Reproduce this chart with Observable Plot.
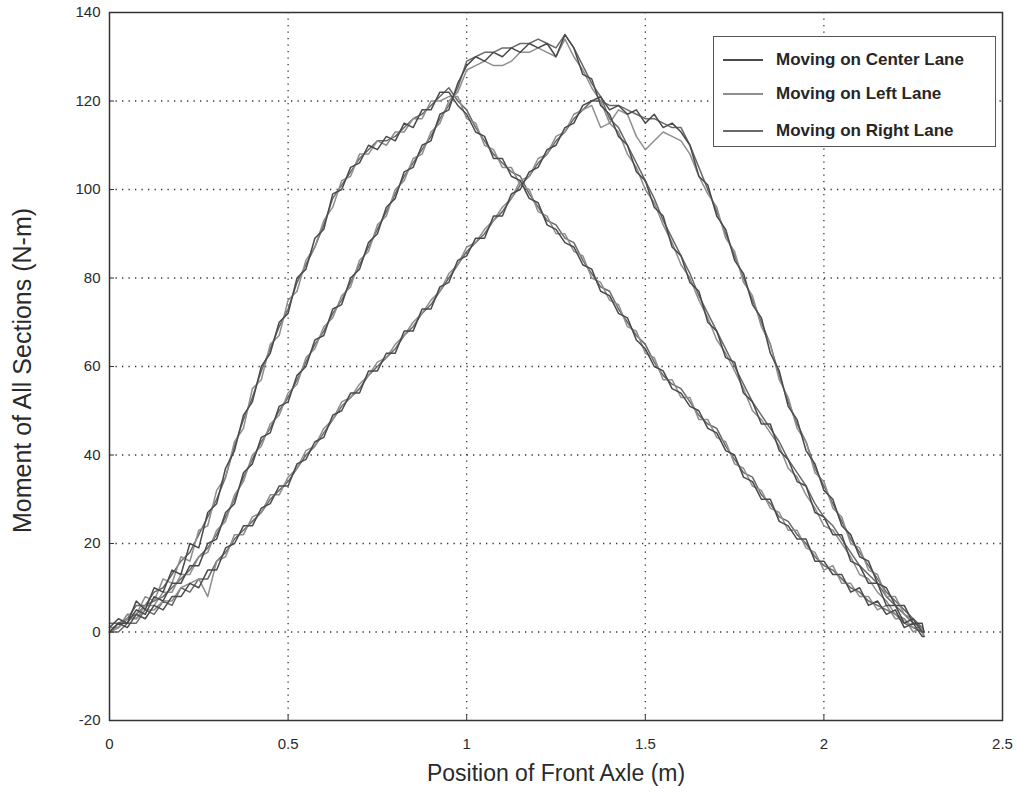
<!DOCTYPE html>
<html><head><meta charset="utf-8">
<script src="https://cdn.jsdelivr.net/npm/d3@7"></script>
<script src="https://cdn.jsdelivr.net/npm/@observablehq/plot@0.6"></script>
<style>
body{margin:0;background:#fff;}
#wrap{position:relative;width:1016px;height:793px;font-family:"Liberation Sans",Arial,sans-serif;}
#legend{position:absolute;left:713px;top:36px;width:283px;height:111px;background:#fff;border:1px solid #555;box-sizing:border-box;}
.row{position:absolute;left:9px;height:20px;display:flex;align-items:center;}
.sw{display:inline-block;width:40px;height:2px;margin-right:13px;}
.lab{font-weight:bold;font-size:17px;color:#262626;white-space:nowrap;}
</style></head>
<body><div id="wrap"><div id="chart"></div><div id="legend"></div></div>
<script>
const lanes = ["Moving on Center Lane", "Moving on Left Lane", "Moving on Right Lane"];
const laneColors = ["#4a4a4a", "#8e8e8e", "#696969"];
const xTicks = [0, 0.5, 1, 1.5, 2, 2.5];
const yTicks = [-20, 0, 20, 40, 60, 80, 100, 120, 140];

// position of front axle (m)
const pos = [
  0,0.025,0.05,0.075,0.1,0.125,0.15,0.175,0.2,0.225,
  0.25,0.275,0.3,0.325,0.35,0.375,0.4,0.425,0.45,0.475,
  0.5,0.525,0.55,0.575,0.6,0.625,0.65,0.675,0.7,0.725,
  0.75,0.775,0.8,0.825,0.85,0.875,0.9,0.925,0.95,0.975,
  1.0,1.025,1.05,1.075,1.1,1.125,1.15,1.175,1.2,1.225,
  1.25,1.275,1.3,1.325,1.35,1.375,1.4,1.425,1.45,1.475,
  1.5,1.525,1.55,1.575,1.6,1.625,1.65,1.675,1.7,1.725,
  1.75,1.775,1.8,1.825,1.85,1.875,1.9,1.925,1.95,1.975,
  2.0,2.025,2.05,2.075,2.1,2.125,2.15,2.175,2.2,2.225,
  2.25,2.275,2.28];

// section 1 (peak near 0.95 m)
const s1Center = [
  1,3,2,7,5,10,9,14,13,20, 19,27,29,37,41,49,52,60,63,70,
  72,80,82,89,91,99,100,105,106,110, 109,112,111,115,114,118,118,122,122,119,
  117,113,112,107,107,103,102,98,97,92, 91,88,87,83,82,77,76,72,71,66,
  64,60,59,55,54,51,50,46,45,41, 40,35,34,30,30,25,24,21,21,16,
  16,13,13,9,10,6,7,4,5,1, 2,-1,-1];
const s1Left = [
  0,1,4,4,8,7,12,11,17,16, 23,24,32,35,43,46,55,57,65,67,
  75,77,84,87,93,96,102,103,108,108, 111,110,113,113,116,116,120,120,121,121,
  116,115,110,109,105,105,101,100,95,94, 90,90,86,85,80,79,75,74,69,68,
  63,62,57,57,53,53,48,48,44,43, 38,37,33,32,28,27,23,23,19,18,
  14,15,11,11,8,8,5,6,3,3, 0,1,-1];
const s1Right = [
  2,2,3,6,6,9,10,13,16,18, 22,26,30,35,42,48,53,59,64,69,
  73,79,83,87,92,98,101,104,107,109, 111,111,112,114,116,117,119,121,123,120,
  118,114,111,108,106,104,103,99,96,93, 92,89,88,84,81,78,77,73,70,67,
  65,61,58,56,55,52,49,47,46,42, 39,36,35,31,29,26,25,22,20,17,
  15,14,12,10,9,7,6,5,4,2, 1,0,0];

// section 2 (peak near 1.28 m)
const s2Center = [
  0,2,2,5,4,8,7,11,11,15, 15,20,21,27,29,36,38,44,45,51,
  52,58,60,66,67,73,74,80,82,88, 90,96,98,104,105,110,111,117,118,124,
  128,130,129,131,130,132,131,133,132,133, 130,135,132,126,125,119,117,112,110,104,
  102,96,94,87,85,79,77,70,68,62, 61,54,52,47,47,41,39,34,33,27,
  26,22,22,16,15,11,11,6,6,2, 3,0,0];
const s2Left = [
  1,1,4,3,6,6,9,9,13,13, 17,18,23,25,31,34,40,42,47,49,
  54,56,62,64,69,71,76,78,84,86, 92,94,100,102,107,108,113,115,120,122,
  127,128,129,128,128,129,131,131,132,131, 130,134,130,127,123,120,115,113,108,105,
  100,97,92,88,83,80,75,71,66,63, 59,55,50,48,45,42,37,35,31,28,
  24,23,20,17,13,12,9,7,4,3, 1,1,-1];
const s2Right = [
  0,1,3,4,6,7,8,10,12,14, 17,19,22,26,30,35,39,43,46,50,
  53,57,61,65,68,72,75,79,83,87, 91,95,99,103,106,109,112,116,119,123,
  129,130,131,131,132,132,133,133,134,133, 132,135,132,128,124,121,116,114,110,106,
  102,98,93,89,85,81,76,72,68,64, 60,56,52,49,46,43,39,36,33,29,
  26,24,21,18,15,13,11,8,6,4, 2,1,0];

// section 3 (peak near 1.38 m)
const s3Center = [
  0,2,1,4,3,6,5,8,8,11, 10,14,14,19,20,24,24,28,29,33,
  33,38,39,43,44,49,50,54,54,59, 59,63,63,68,68,73,73,78,79,84,
  85,89,89,94,94,99,100,104,105,109, 110,114,115,119,120,121,118,119,117,118,
  115,117,114,115,113,110,103,101,94,91, 84,81,74,71,63,59,51,48,41,38,
  32,30,24,22,17,16,11,10,6,6, 2,2,0];
const s3Left = [
  1,1,3,3,5,5,7,7,10,11, 12,8,16,17,22,22,26,27,31,31,
  35,37,41,42,46,48,52,53,56,58, 61,62,65,67,70,72,75,77,81,83,
  87,88,91,93,96,98,102,103,107,108, 112,113,117,118,119,114,115,118,117,112,
  109,111,113,112,111,108,103,99,96,89, 86,79,76,69,65,57,53,46,43,36,
  34,28,26,20,19,14,13,8,8,4, 3,0,-1];
const s3Right = [
  0,0,2,2,5,4,7,6,10,9, 12,12,16,18,21,23,25,27,30,32,
  34,37,40,42,45,48,51,53,55,58, 60,62,64,67,69,72,74,77,80,83,
  86,88,90,93,95,98,101,103,106,108, 111,113,116,118,120,120,119,119,118,117,
  116,116,115,114,114,110,105,100,95,90, 85,80,75,70,65,58,52,47,43,37,
  33,29,25,21,18,15,12,9,7,5, 3,1,0];

const series = [
  {id: "s1R", lane: 2, y: s1Right}, {id: "s2R", lane: 2, y: s2Right}, {id: "s3R", lane: 2, y: s3Right},
  {id: "s1L", lane: 1, y: s1Left},  {id: "s2L", lane: 1, y: s2Left},  {id: "s3L", lane: 1, y: s3Left},
  {id: "s1C", lane: 0, y: s1Center},{id: "s2C", lane: 0, y: s2Center},{id: "s3C", lane: 0, y: s3Center}
];
const rows = series.flatMap(s => pos.map((x, i) => ({x, y: s.y[i], id: s.id, lane: lanes[s.lane]})));

const chart = Plot.plot({
  width: 1016, height: 793,
  marginLeft: 109, marginRight: 14, marginTop: 12, marginBottom: 73,
  style: {fontFamily: "'Liberation Sans', Arial, sans-serif", fontSize: "15px", color: "#2a2a2a", background: "#fff"},
  x: {domain: [0, 2.5]},
  y: {domain: [-20, 140]},
  color: {domain: lanes, range: laneColors},
  marks: [
    Plot.gridX(xTicks.slice(1, -1), {stroke: "#333", strokeOpacity: 1, strokeWidth: 1.3, strokeDasharray: "1.3,5.2"}),
    Plot.gridY(yTicks.slice(1, -1), {stroke: "#333", strokeOpacity: 1, strokeWidth: 1.3, strokeDasharray: "1.3,5.2"}),
    Plot.line(rows, {x: "x", y: "y", z: "id", stroke: "lane", strokeWidth: 1.5, strokeLinejoin: "round"}),
    Plot.axisX(xTicks, {tickSize: 0, tickPadding: 18, tickFormat: d => String(d), label: null}),
    Plot.axisX(xTicks, {tickSize: 5, dy: -5, text: null, label: null, stroke: "#333"}),
    Plot.axisY(yTicks, {tickSize: 0, tickPadding: 9, tickFormat: d => String(d), label: null}),
    Plot.axisY(yTicks, {tickSize: 5, dx: 5, text: null, label: null, stroke: "#333"}),
    Plot.frame({stroke: "#333", strokeWidth: 1.5}),
    Plot.text(["Position of Front Axle (m)"], {frameAnchor: "bottom", dy: 60, fontSize: 23, fill: "#2a2a2a"}),
    Plot.text(["Moment of All Sections (N-m)"], {frameAnchor: "left", textAnchor: "middle", dx: -87, dy: 4, rotate: -90, fontSize: 25, fill: "#2a2a2a"})
  ]
});
document.getElementById("chart").appendChild(chart);

const legend = document.getElementById("legend");
const rowTops = [13, 47, 84];
lanes.forEach((name, i) => {
  const r = document.createElement("div");
  r.className = "row";
  r.style.top = rowTops[i] + "px";
  r.innerHTML = `<span class="sw" style="background:${laneColors[i]}"></span><span class="lab">${name}</span>`;
  legend.appendChild(r);
});
</script></body></html>
